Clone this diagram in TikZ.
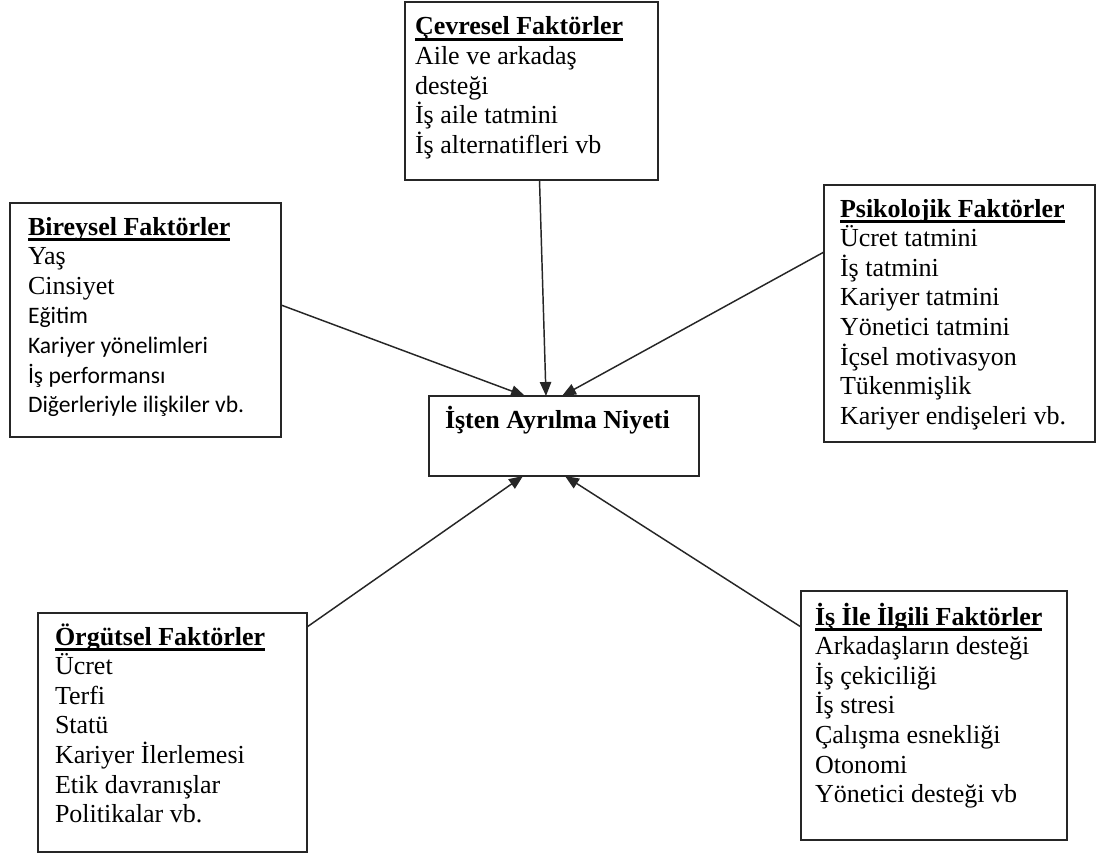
\documentclass[tikz,border=0pt]{standalone}
\usepackage{fontspec}
\setmainfont{Liberation Serif}
\newfontfamily\calibfont{Carlito}
\usetikzlibrary{arrows.meta,fit}
\setlength\lineskiplimit{-30pt}
% underlined bold heading of a factor box
\newcommand\fakt[1]{\setbox0\hbox{\bfseries #1}\rlap{\rule[-4.6pt]{\wd0}{2pt}}\box0}
% lines set in the sans face
\newcommand\calib{\calibfont\fontsize{17.7}{22.2}\selectfont}
% first-line strut so every text block hangs from its baseline
\newcommand\firstline{\rule{0pt}{20pt}}

\begin{document}
\begin{tikzpicture}[x=0.75pt,y=-0.75pt,
  frame/.style={draw=black!85, line width=1.2pt, inner sep=0pt, outer sep=0pt},
  txt/.style={anchor=north west, inner sep=0pt, outer sep=0pt, align=left, yshift=20pt,
    font=\fontsize{19.5}{22.2}\selectfont},
  arr/.style={draw=black!85, line width=1.1pt, -{Triangle[length=10.5pt,width=8.5pt]}}]

\fill[white] (0,0) rectangle (1102,855);
\useasboundingbox (0,0) rectangle (1102,855);

% boxes
\node[frame, fit={(405,2) (658,180)}] (cev) {};
\node[frame, fit={(10,203) (281,437)}] (bir) {};
\node[frame, fit={(824,185) (1095,442)}] (psi) {};
\node[frame, fit={(429,396) (699,476)}] (ctr) {};
\node[frame, fit={(38,613) (307,852)}] (org) {};
\node[frame, fit={(801,591) (1067,840)}] (isi) {};

% box texts
\node[txt] (cevt) at (415,35) {\firstline\fakt{Çevresel Faktörler}\\
  Aile ve arkadaş\\ desteği\\ İş aile tatmini\\ İş alternatifleri vb};
\node[txt] (birt) at (28,235) {\firstline\fakt{Bireysel Faktörler}\\
  Yaş\\ Cinsiyet\\ \calib Eğitim\\ \calib Kariyer yönelimleri\\
  \calib İş performansı\\ \calib Diğerleriyle ilişkiler vb.};
\node[txt] (psit) at (840,217) {\firstline\fakt{Psikolojik Faktörler}\\
  Ücret tatmini\\ İş tatmini\\ Kariyer tatmini\\ Yönetici tatmini\\
  İçsel motivasyon\\ Tükenmişlik\\ Kariyer endişeleri vb.};
\node[txt] (ctrt) at (445,428) {\firstline\bfseries İşten Ayrılma Niyeti};
\node[txt] (orgt) at (55,645) {\firstline\fakt{Örgütsel Faktörler}\\
  Ücret\\ Terfi\\ Statü\\ Kariyer İlerlemesi\\ Etik davranışlar\\ Politikalar vb.};
\node[txt] (isit) at (815,625) {\firstline\fakt{İş İle İlgili Faktörler}\\
  Arkadaşların desteği\\ İş çekiciliği\\ İş stresi\\ Çalışma esnekliği\\
  Otonomi\\ Yönetici desteği vb};

% connectors into the central box
\draw[arr] ([shift={(0,-15)}]bir.east) -- ([shift={(-39,0)}]ctr.north);
\draw[arr] ([shift={(8,0)}]cev.south) -- ([shift={(-18,0)}]ctr.north);
\draw[arr] ([shift={(0,-61.5)}]psi.west) -- ([shift={(-2,0)}]ctr.north);
\draw[arr] ([shift={(0,-105.5)}]org.east) -- ([shift={(-41,0)}]ctr.south);
\draw[arr] ([shift={(0,-88.5)}]isi.west) -- ([shift={(1,0)}]ctr.south);
\end{tikzpicture}
\end{document}
